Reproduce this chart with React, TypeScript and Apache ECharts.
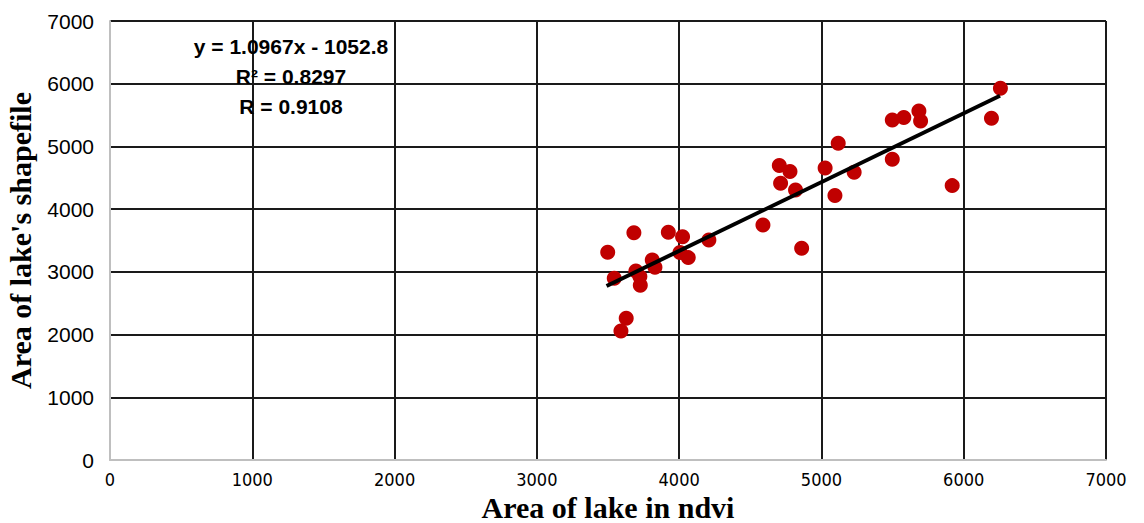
import React, { useEffect, useRef } from "react";
import * as echarts from "echarts";

const ndviArea = [
  3498, 3682, 3924, 4024, 4209, 4589, 4861, 3544, 3696, 3811, 3830, 3724, 3727, 4006, 4064, 3628, 3591,
  6258, 6195, 5498, 5579, 5685, 5697, 5118, 5498, 5919, 4704, 4779, 5026, 5230, 4713, 4818, 5095,
];
const shapeArea = [
  3313, 3625, 3631, 3561, 3509, 3748, 3376, 2898, 3014, 3190, 3073, 2924, 2788, 3307, 3227, 2260, 2057,
  5928, 5450, 5423, 5460, 5563, 5407, 5051, 4796, 4375, 4694, 4599, 4657, 4588, 4413, 4306, 4216,
];
const trendStart = [3490, 2775];
const trendEnd = [6255, 5807];
const equationLines = ["y = 1.0967x - 1052.8", "R² = 0.8297", "R = 0.9108"];
const xTitle = "Area of lake in ndvi";
const yTitle = "Area of lake's shapefile";

export default function App() {
  const ref = useRef<HTMLDivElement>(null);
  useEffect(() => {
    if (!ref.current) return;
    const chart = echarts.init(ref.current, null, { renderer: "svg" });
    const points = ndviArea.map((x, i) => [x, shapeArea[i]]);
    chart.setOption({
      animation: false,
      backgroundColor: "#fff",
      grid: {
        left: 110,
        right: 38,
        top: 21,
        bottom: 63,
        containLabel: false,
        outerBoundsMode: "none",
      },
      xAxis: {
        type: "value",
        min: 0,
        max: 7000,
        interval: 1000,
        axisLine: { show: true, lineStyle: { color: "#bfbfbf", width: 2 } },
        axisTick: { show: false },
        splitLine: { show: true, lineStyle: { color: "#1a1a1a", width: 2 } },
        axisLabel: {
          color: "#000",
          fontSize: 18,
          margin: 10,
          formatter: (v: number) => String(v),
          fontFamily: "'Liberation Sans Narrow', 'DejaVu Sans Condensed', 'Liberation Sans', sans-serif",
        },
        name: xTitle,
        nameLocation: "middle",
        nameGap: 27,
        nameTextStyle: {
          fontFamily: "'Liberation Serif', 'Times New Roman', serif",
          fontWeight: "bold",
          fontSize: 30,
          color: "#000",
        },
      },
      yAxis: {
        type: "value",
        min: 0,
        max: 7000,
        interval: 1000,
        axisLine: { show: true, lineStyle: { color: "#bfbfbf", width: 2 } },
        axisTick: { show: false },
        splitLine: { show: true, lineStyle: { color: "#1a1a1a", width: 2 } },
        axisLabel: {
          color: "#000",
          fontSize: 21,
          margin: 16,
          formatter: (v: number) => String(v),
          fontFamily: "'Liberation Sans', Arial, sans-serif",
        },
        name: yTitle,
        nameLocation: "middle",
        nameGap: 75,
        nameTextStyle: {
          fontFamily: "'Liberation Serif', 'Times New Roman', serif",
          fontWeight: "bold",
          fontSize: 30,
          color: "#000",
        },
      },
      series: [
        {
          type: "scatter",
          data: points,
          symbol: "circle",
          symbolSize: 15,
          itemStyle: { color: "#c00000", opacity: 1 },
          z: 2,
        },
        {
          type: "line",
          data: [trendStart, trendEnd],
          symbol: "none",
          lineStyle: { color: "#000", width: 4 },
          z: 3,
        },
      ],
      graphic: equationLines.map((t, i) => ({
        type: "text",
        x: 291,
        y: 46 + i * 30,
        style: {
          text: t,
          fill: "#000",
          font: "bold 21px 'Liberation Sans', Arial, sans-serif",
          textAlign: "center",
          textVerticalAlign: "middle",
        },
        z: 10,
      })),
    });
    return () => chart.dispose();
  }, []);
  return (
    <div
      ref={ref}
      style={{ position: "fixed", left: 0, top: 0, width: 1144, height: 523 }}
    />
  );
}
